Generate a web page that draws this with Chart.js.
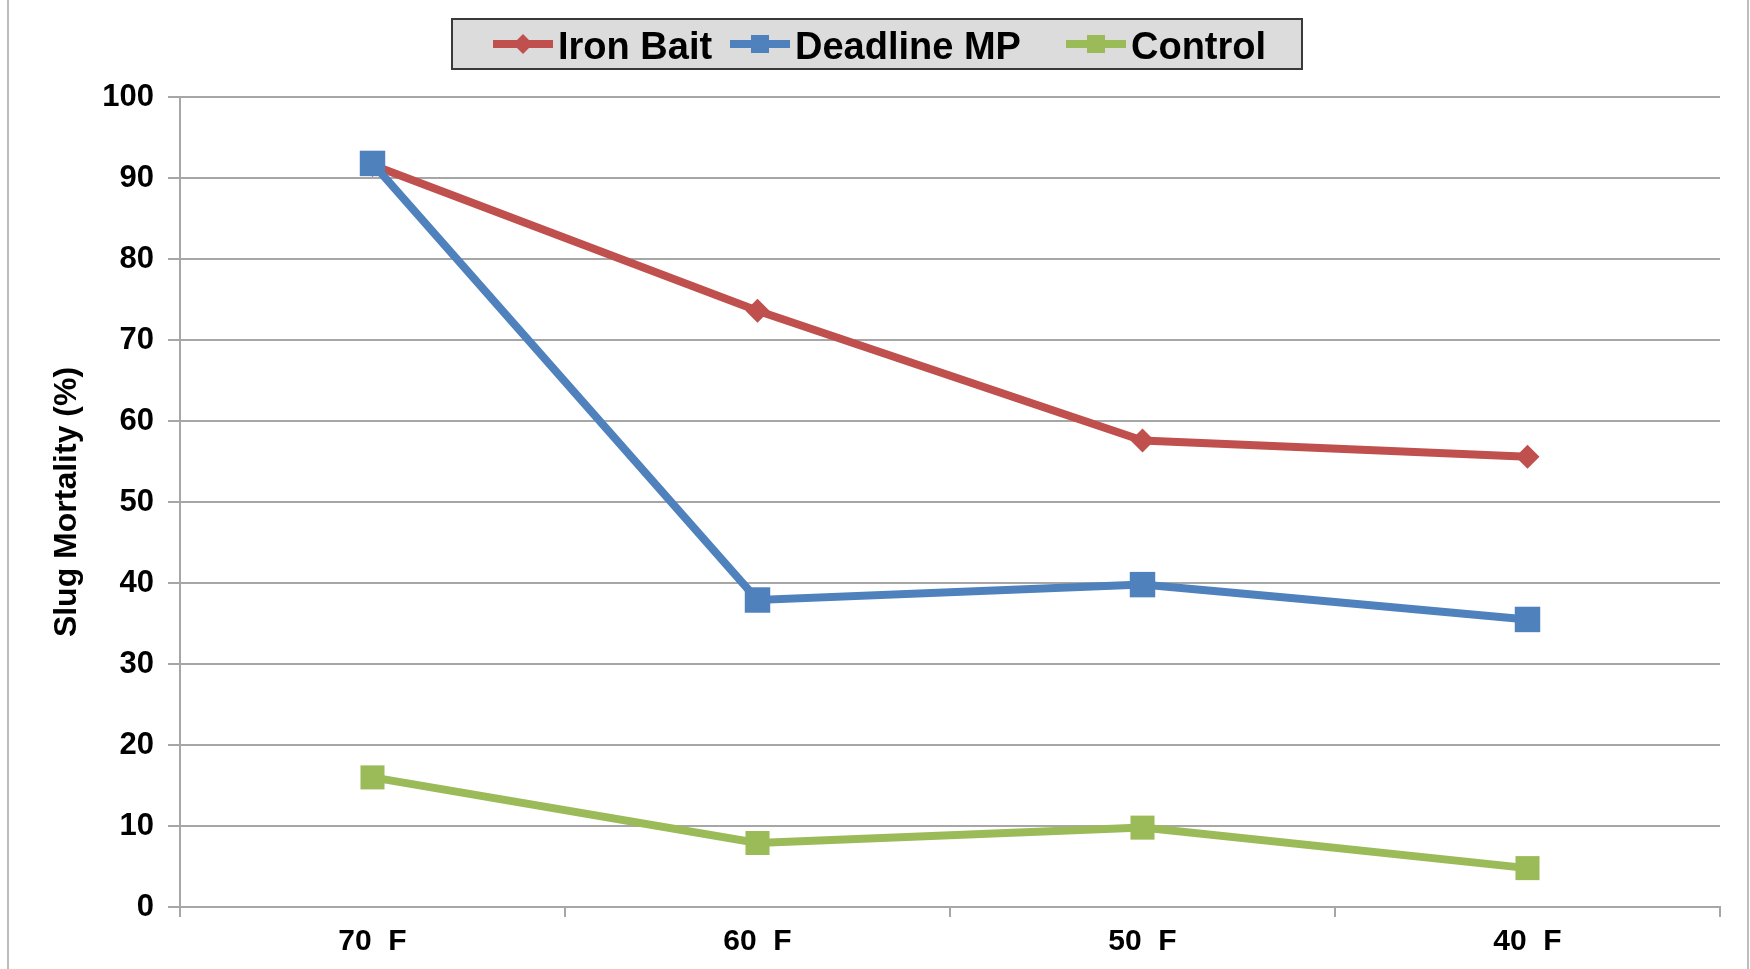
<!DOCTYPE html>
<html>
<head>
<meta charset="utf-8">
<script src="https://cdn.jsdelivr.net/npm/chart.js@4/dist/chart.umd.min.js"></script>
<style>
  html, body { margin: 0; padding: 0; background: #fff; }
  #wrap { width: 1750px; height: 969px; }
</style>
</head>
<body>
<div id="wrap"><canvas id="mortalityChart" width="1750" height="969"></canvas></div>
<script>
const temps = ['70  F', '60  F', '50  F', '40  F'];
const ironBait = [91.6, 73.6, 57.6, 55.6];
const deadlineMP = [91.8, 37.9, 39.8, 35.5];
const control = [16.0, 7.9, 9.8, 4.8];
const yTicks = [0, 10, 20, 30, 40, 50, 60, 70, 80, 90, 100];

const RED = '#C0504D';
const BLUE = '#4F81BD';
const GREEN = '#9BBB59';
const FONT = "'Liberation Sans', Arial, sans-serif";

// legend box drawn by hand so it looks like the Excel one (line + marker sample)
const boxLegend = {
  id: 'boxLegend',
  afterDraw(chart, args, opts) {
    const ctx = chart.ctx;
    ctx.save();
    ctx.fillStyle = '#dcdcdc';
    ctx.fillRect(opts.x, opts.y, opts.w, opts.h);
    ctx.strokeStyle = '#3a3a3a';
    ctx.lineWidth = 2;
    ctx.strokeRect(opts.x, opts.y, opts.w, opts.h);
    const cy = opts.y + opts.h / 2;
    chart.data.datasets.forEach((ds, n) => {
      const sx = opts.starts[n];
      ctx.strokeStyle = ds.borderColor;
      ctx.lineWidth = 8;
      ctx.beginPath();
      ctx.moveTo(sx, cy);
      ctx.lineTo(sx + 60, cy);
      ctx.stroke();
      ctx.fillStyle = ds.borderColor;
      if (ds.pointStyle === 'rectRot') {
        ctx.beginPath();
        ctx.moveTo(sx + 30, cy - 10);
        ctx.lineTo(sx + 40, cy);
        ctx.lineTo(sx + 30, cy + 10);
        ctx.lineTo(sx + 20, cy);
        ctx.closePath();
        ctx.fill();
      } else {
        ctx.fillRect(sx + 21, cy - 9, 18, 18);
      }
      ctx.fillStyle = '#000';
      ctx.font = 'bold 38px ' + FONT;
      ctx.textBaseline = 'middle';
      ctx.textAlign = 'left';
      ctx.fillText(ds.label, sx + 65, cy + 5);
    });
    ctx.restore();
  }
};

// thin grey frame at the left and right edges
const frame = {
  id: 'frame',
  beforeDraw(chart) {
    const ctx = chart.ctx;
    ctx.save();
    ctx.fillStyle = '#fff';
    ctx.fillRect(0, 0, chart.width, chart.height);
    ctx.strokeStyle = '#bdbdbd';
    ctx.lineWidth = 2;
    ctx.beginPath();
    ctx.moveTo(8, 0); ctx.lineTo(8, chart.height);
    ctx.moveTo(1748, 0); ctx.lineTo(1748, chart.height);
    ctx.stroke();
    ctx.restore();
  }
};

const line = (label, data, color, style, radius, order) => ({
  label,
  data,
  borderColor: color,
  backgroundColor: color,
  borderWidth: 8,
  pointStyle: style,
  pointRadius: radius,
  pointHoverRadius: radius,
  pointBorderWidth: 0,
  tension: 0,
  order
});

new Chart(document.getElementById('mortalityChart'), {
  type: 'line',
  data: {
    labels: temps,
    datasets: [
      line('Iron Bait', ironBait, RED, 'rectRot', 12, 2),
      line('Deadline MP', deadlineMP, BLUE, 'rect', 18, 1),
      line('Control', control, GREEN, 'rect', 17, 0)
    ]
  },
  options: {
    responsive: false,
    animation: false,
    devicePixelRatio: 1,
    layout: { padding: { top: 97, right: 30, bottom: 0, left: 0 } },
    plugins: {
      legend: { display: false },
      tooltip: { enabled: false },
      boxLegend: { x: 452, y: 19, w: 850, h: 50, starts: [493, 730, 1066] }
    },
    scales: {
      x: {
        offset: true,
        grid: {
          offset: true,
          drawOnChartArea: false,
          drawTicks: true,
          tickLength: 10,
          color: '#a6a6a6',
          lineWidth: 2
        },
        border: { display: true, color: '#a6a6a6', width: 2 },
        ticks: {
          color: '#000',
          font: { family: FONT, size: 30, weight: 'bold' },
          padding: 7,
          maxRotation: 0
        },
        afterFit(scale) { scale.height = 62; }
      },
      y: {
        min: 0,
        max: 100,
        afterBuildTicks(scale) { scale.ticks = yTicks.map(v => ({ value: v })); },
        grid: {
          color: '#a6a6a6',
          lineWidth: 2,
          tickLength: 12
        },
        border: { display: true, color: '#a6a6a6', width: 2 },
        ticks: {
          color: '#000',
          font: { family: FONT, size: 31, weight: 'bold' },
          padding: 14
        },
        title: {
          display: true,
          text: 'Slug Mortality (%)',
          color: '#000',
          font: { family: FONT, size: 32, weight: 'bold' },
          padding: { top: 48, bottom: 0 }
        },
        afterFit(scale) { scale.width = 180; }
      }
    }
  },
  plugins: [frame, boxLegend]
});
</script>
</body>
</html>
